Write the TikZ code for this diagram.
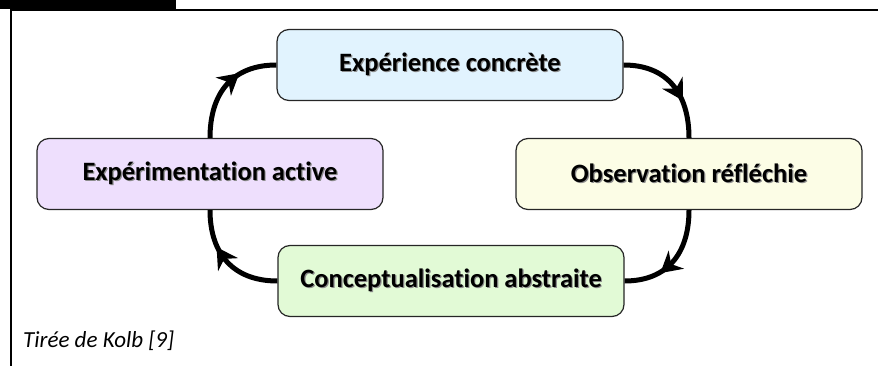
\documentclass[tikz,border=0pt]{standalone}
\usepackage{fontspec}
\setmainfont{Carlito}[Ligatures=NoCommon]
\usepackage{tikz}
\usetikzlibrary{positioning, arrows.meta, decorations.markings}
\definecolor{expblue}{HTML}{E1F3FE}
\definecolor{obsyellow}{HTML}{FCFDE6}
\definecolor{conpgreen}{HTML}{E2FAD6}
\definecolor{actpurple}{HTML}{EEDFFD}
\definecolor{framegray}{HTML}{262626}
\newcommand{\shadowtxt}[1]{\makebox[0pt][l]{\hspace{1.2pt}\raisebox{-1.2pt}{\color{black!45}#1}}#1}

\begin{document}
\begin{tikzpicture}[x=1pt, y=-1pt,
  stage/.style={draw=framegray, rounded corners=12pt, minimum width=346pt,
    minimum height=71pt, align=center, line width=1.2pt,
    font=\fontsize{26.5}{30}\selectfont\bfseries},
  cyclearrow/.style={line width=5pt,
    decoration={markings, mark=at position 0.58 with
      {\fill[line width=0pt] (9pt,0pt) -- (-12pt,12pt) -- (-5pt,0pt) -- (-12pt,-12pt) -- cycle;}},
    postaction={decorate}},
  caption/.style={font=\fontsize{23}{26}\selectfont\itshape, anchor=base west, inner sep=0pt},
]
  \useasboundingbox (0,0) rectangle (878,366);

  % frame
  \fill (0,0) rectangle (176,9);
  \draw[line width=2pt] (10,10) -- (878,10);
  \draw[line width=2pt] (11,10) -- (11,366);

  % stages
  \node[stage, fill=expblue] (exp) at (450,65) {\shadowtxt{Expérience concrète}};
  \node[stage, fill=obsyellow] (obs) at (689,174) {\shadowtxt{Observation réfléchie}};
  \node[stage, fill=conpgreen] (conp) at (451,281) {\shadowtxt{Conceptualisation abstraite}};
  \node[stage, fill=actpurple] (act) at (210,174) {\shadowtxt{Expérimentation active}};

  % cycle
  \draw[cyclearrow] (exp.east) to[out=0, in=90, looseness=1.15] (obs.north);
  \draw[cyclearrow] (obs.south) to[out=-90, in=0, looseness=1.15] (conp.east);
  \draw[cyclearrow] (conp.west) to[out=180, in=-90, looseness=1.15] (act.south);
  \draw[cyclearrow] (act.north) to[out=90, in=180, looseness=1.15] (exp.west);

  % source
  \node[caption] (src) at (23,347) {Tirée de Kolb [9]};
\end{tikzpicture}
\end{document}
